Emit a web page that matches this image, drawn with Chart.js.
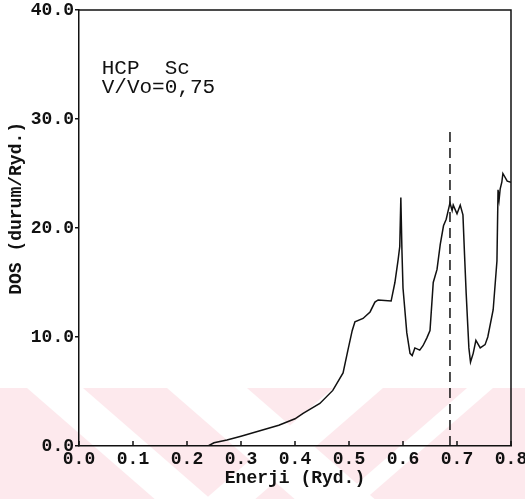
<!DOCTYPE html>
<html>
<head>
<meta charset="utf-8">
<script src="https://cdn.jsdelivr.net/npm/chart.js@4.4.1/dist/chart.umd.min.js"></script>
<style>
  html, body { margin: 0; padding: 0; background: #fff; }
  #wrap { width: 525px; height: 499px; }
</style>
</head>
<body>
<div id="wrap"><canvas id="c" width="525" height="499"></canvas></div>
<script>
// ---- data ----
const energy = [0.000, 0.239, 0.250, 0.274, 0.300, 0.335, 0.370, 0.400, 0.415, 0.446,
  0.470, 0.489, 0.498, 0.506, 0.511, 0.526, 0.539, 0.548, 0.554, 0.578,
  0.585, 0.591, 0.594, 0.596, 0.598, 0.600, 0.607, 0.613, 0.617, 0.622,
  0.631, 0.637, 0.644, 0.650, 0.656, 0.663, 0.669, 0.675, 0.680, 0.687,
  0.691, 0.693, 0.700, 0.706, 0.711, 0.714, 0.717, 0.720, 0.722, 0.725,
  0.730, 0.735, 0.743, 0.752, 0.757, 0.767, 0.774, 0.776, 0.778, 0.780,
  0.783, 0.785, 0.793, 0.800];
const dos = [0.0, 0.0, 0.3, 0.55, 0.9, 1.4, 1.9, 2.5, 3.0, 3.9,
  5.1, 6.7, 8.8, 10.6, 11.4, 11.7, 12.3, 13.2, 13.4, 13.3,
  15.0, 17.1, 18.3, 22.8, 18.0, 14.5, 10.4, 8.5, 8.3, 9.0,
  8.8, 9.2, 9.9, 10.6, 15.0, 16.2, 18.5, 20.2, 20.8, 22.3,
  21.6, 22.1, 21.3, 22.1, 21.2, 17.5, 14.0, 11.0, 9.0, 7.7,
  8.5, 9.7, 9.0, 9.3, 10.0, 12.5, 17.0, 23.5, 22.6, 23.6,
  24.2, 25.0, 24.3, 24.2];
const fermiEnergy = 0.687;
const fermiLine = [0, 29];
const xTicks = [0.0, 0.1, 0.2, 0.3, 0.4, 0.5, 0.6, 0.7, 0.8];
const yTicks = [0, 10, 20, 30, 40];
const annotationLines = ["HCP  Sc", "V/Vo=0,75"];
const xTitle = "Enerji (Ryd.)";
const yTitle = "DOS (durum/Ryd.)";

const INK = '#111';
const tickFont = { family: "'Liberation Mono', monospace", size: 18, weight: 'bold' };
const titleFont = { family: "'Liberation Mono', monospace", size: 18, weight: 'bold' };

const curve = energy.map((e, i) => ({ x: e, y: dos[i] }));
const fermi = fermiLine.map(v => ({ x: fermiEnergy, y: v }));

const decor = {
  id: 'decor',
  beforeDraw(chart) {
    const ctx = chart.ctx;
    ctx.save();
    ctx.fillStyle = '#fff';
    ctx.fillRect(0, 0, chart.width, chart.height);
    // faint pink watermark band at the bottom of the scan
    const top = 388, bot = 499, h = bot - top;
    ctx.beginPath(); ctx.rect(0, top, chart.width, h); ctx.clip();
    ctx.fillStyle = '#fde9ed';
    ctx.fillRect(0, top, chart.width, h);
    ctx.fillStyle = '#fff';
    const k = 1.15;
    [[27, 83], [167, 247]].forEach(([a, b]) => {
      ctx.beginPath();
      ctx.moveTo(a, top); ctx.lineTo(b, top);
      ctx.lineTo(b + k * h, bot); ctx.lineTo(a + k * h, bot); ctx.closePath(); ctx.fill();
    });
    [[333, 383], [467, 493]].forEach(([a, b]) => {
      ctx.beginPath();
      ctx.moveTo(a, top); ctx.lineTo(b, top);
      ctx.lineTo(b - k * h, bot); ctx.lineTo(a - k * h, bot); ctx.closePath(); ctx.fill();
    });
    ctx.restore();
  },
  afterDraw(chart) {
    const ctx = chart.ctx;
    const a = chart.chartArea;
    const xs = chart.scales.x, ys = chart.scales.y;
    ctx.save();
    ctx.strokeStyle = INK;
    ctx.lineWidth = 1.5;
    // frame (top and right)
    ctx.beginPath();
    ctx.moveTo(a.left, a.top); ctx.lineTo(a.right, a.top); ctx.lineTo(a.right, a.bottom);
    ctx.stroke();
    // inward x ticks
    ctx.beginPath();
    xTicks.forEach(v => {
      const px = xs.getPixelForValue(v);
      ctx.moveTo(px, a.bottom); ctx.lineTo(px, a.bottom - 5);
    });
    ctx.stroke();
    ctx.fillStyle = INK;
    // y-axis title (placed as in the reference, a little above centre)
    ctx.save();
    ctx.font = "bold 18px 'Liberation Mono', monospace";
    ctx.translate(16, ys.getPixelForValue(21.8));
    ctx.rotate(-Math.PI / 2);
    ctx.textAlign = 'center';
    ctx.textBaseline = 'middle';
    ctx.fillText(yTitle, 0, 0);
    ctx.restore();
    // annotation
    ctx.font = "21px 'Liberation Mono', monospace";
    ctx.textBaseline = 'alphabetic';
    ctx.textAlign = 'left';
    const ax = xs.getPixelForValue(0.042);
    ctx.fillText(annotationLines[0], ax, ys.getPixelForValue(34.1));
    ctx.fillText(annotationLines[1], ax, ys.getPixelForValue(32.4));
    ctx.restore();
  }
};

new Chart(document.getElementById('c'), {
  type: 'line',
  data: {
    datasets: [
      { data: curve, borderColor: INK, borderWidth: 1.5, pointRadius: 0, tension: 0, fill: false },
      { data: fermi, borderColor: INK, borderWidth: 1.5, borderDash: [10, 6], pointRadius: 0, fill: false }
    ]
  },
  options: {
    responsive: false,
    devicePixelRatio: 1,
    animation: false,
    layout: { padding: { left: 0, right: 14, top: 10, bottom: 0 } },
    plugins: { legend: { display: false }, tooltip: { enabled: false } },
    scales: {
      x: {
        type: 'linear', min: 0, max: 0.8,
        afterBuildTicks: s => { s.ticks = xTicks.map(v => ({ value: v })); },
        afterFit: s => { s.height = 53; s.paddingLeft = 0; s.paddingRight = 0; },
        grid: { display: false, drawTicks: false, tickLength: 0 },
        border: { display: true, color: INK, width: 1.5 },
        ticks: { color: INK, font: tickFont, padding: 3, maxRotation: 0, autoSkip: false,
                 callback: v => Number(v).toFixed(1) },
        title: { display: true, text: xTitle, color: INK, font: titleFont, padding: { top: 0, bottom: 10 } }
      },
      y: {
        type: 'linear', min: 0, max: 40,
        afterBuildTicks: s => { s.ticks = yTicks.map(v => ({ value: v })); },
        afterFit: s => { s.width = 79; s.paddingTop = 0; s.paddingBottom = 0; },
        grid: { drawOnChartArea: false, drawTicks: true, tickLength: 4, color: INK, lineWidth: 1.5 },
        border: { display: true, color: INK, width: 1.5 },
        ticks: { color: INK, font: tickFont, padding: 1, callback: v => Number(v).toFixed(1) },
        title: { display: false, text: yTitle }
      }
    }
  },
  plugins: [decor]
});
</script>
</body>
</html>
